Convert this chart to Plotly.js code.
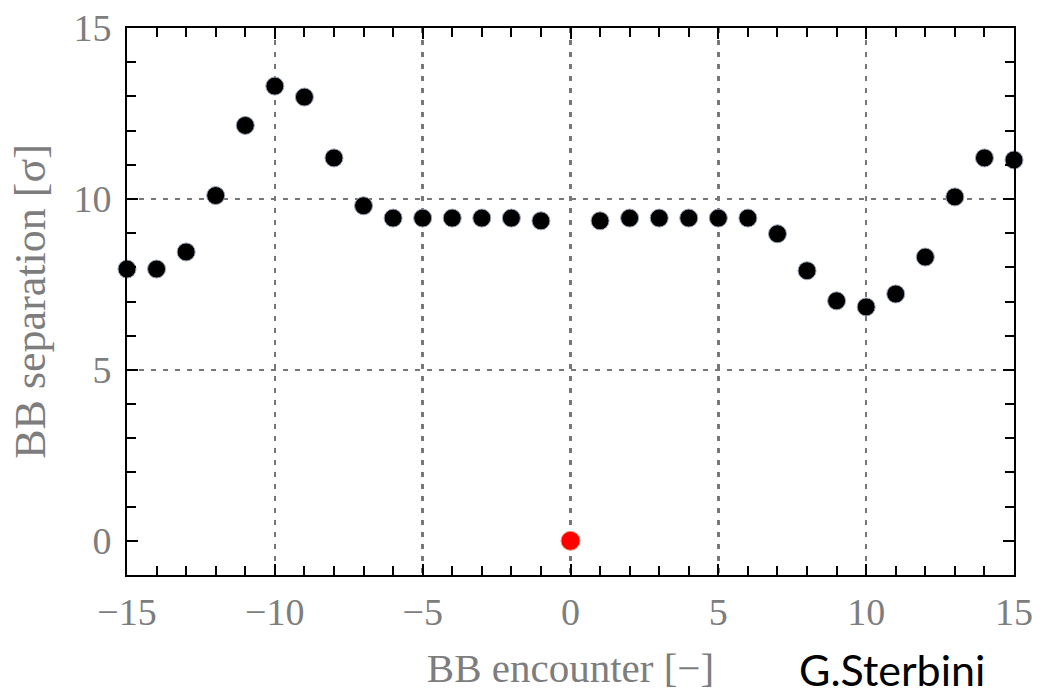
<!DOCTYPE html>
<html>
<head>
<meta charset="utf-8">
<script src="https://cdn.plot.ly/plotly-3.0.1.min.js"></script>
<style>html,body{margin:0;padding:0;background:#fff;}#chart{width:1042px;height:699px;}</style>
</head>
<body>
<div id="chart"></div>
<script>
// BB encounter index and separation (sigma)
const encounters = [-15,-14,-13,-12,-11,-10,-9,-8,-7,-6,-5,-4,-3,-2,-1,1,2,3,4,5,6,7,8,9,10,11,12,13,14,15];
const separation = [7.95,7.95,8.45,10.1,12.15,13.3,12.98,11.2,9.8,9.44,9.44,9.44,9.44,9.44,9.36,9.36,9.44,9.44,9.44,9.44,9.44,8.98,7.9,7.02,6.84,7.22,8.3,10.06,11.2,11.14];
const ipX = [0];
const ipY = [0];
const xTicks = [-15,-10,-5,0,5,10,15];
const xTickText = ['\u221215','\u221210','\u22125','0','5','10','15'];
const yTicks = [0,5,10,15];
const yTickText = ['0','5','10','15'];

const grey = '#7d7d7d';
const serif = 'Liberation Serif, Times New Roman, serif';

const traces = [
  {x: encounters, y: separation, type: 'scatter', mode: 'markers', cliponaxis: false,
   marker: {color: '#000', size: 18, line: {color: '#9aa4b4', width: 1}}, hoverinfo: 'x+y'},
  {x: ipX, y: ipY, type: 'scatter', mode: 'markers', cliponaxis: false,
   marker: {color: '#ff0000', size: 19, line: {color: '#e89a7a', width: 1}}, hoverinfo: 'x+y'}
];

const axisCommon = {
  showline: true, linecolor: '#000', linewidth: 2, mirror: 'allticks',
  ticks: 'inside', ticklen: 11, tickwidth: 2, tickcolor: '#000',
  showgrid: true, gridcolor: '#777777', gridwidth: 2.5, griddash: '5px,7px',
  tickfont: {family: serif, size: 38, color: grey},
  minor: {dtick: 1, ticks: 'inside', ticklen: 9, tickwidth: 2, tickcolor: '#000', showgrid: false}
};

const layout = {
  width: 1042, height: 699,
  margin: {l: 127, r: 28, t: 28, b: 124},
  paper_bgcolor: '#fff', plot_bgcolor: '#fff',
  showlegend: false,
  xaxis: Object.assign({}, axisCommon, {
    range: [-15, 15], tickmode: 'array', tickvals: xTicks, ticktext: xTickText,
    zeroline: false, ticklabelstandoff: 2,
    title: {text: 'BB encounter [\u2212]', font: {family: serif, size: 41, color: grey}, standoff: 22}
  }),
  yaxis: Object.assign({}, axisCommon, {
    range: [-1, 15], tickmode: 'array', tickvals: yTicks, ticktext: yTickText,
    zeroline: true, zerolinecolor: 'rgba(0,0,0,0)', zerolinewidth: 1, ticklabelstandoff: 6,
    title: {text: 'BB separation [\u03c3]', font: {family: serif, size: 44, color: grey}, standoff: 14}
  }),
  annotations: [{
    text: 'G.Sterbini', xref: 'paper', yref: 'paper', x: 0.862, y: -0.172,
    xanchor: 'center', yanchor: 'middle', showarrow: false,
    font: {family: 'Lato, Noto Sans, sans-serif', size: 43, color: '#000'}
  }]
};

Plotly.newPlot('chart', traces, layout, {displayModeBar: false, staticPlot: true});
</script>
</body>
</html>
